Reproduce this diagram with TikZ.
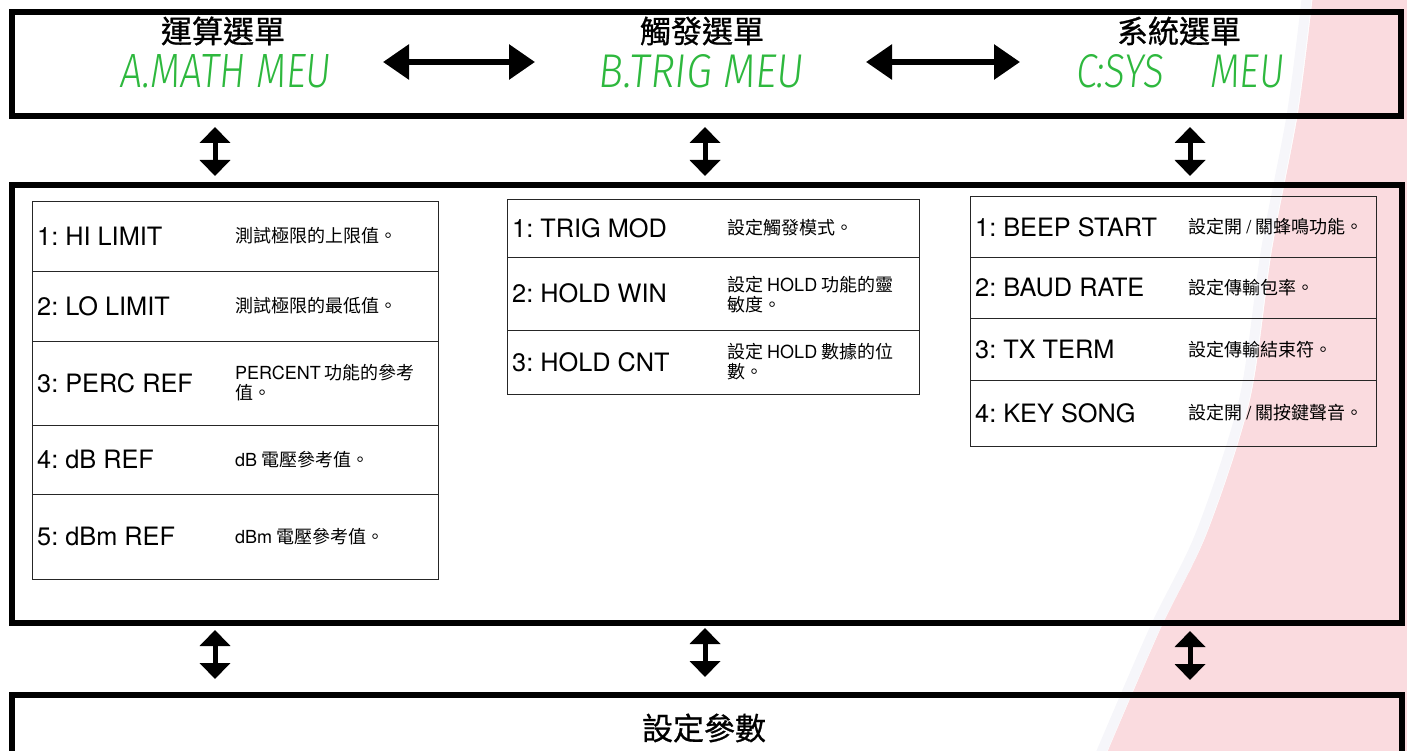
\documentclass[tikz,border=0pt]{standalone}
\usepackage{fontspec}
\usepackage{graphicx}
\usetikzlibrary{arrows.meta}
\setmainfont{TeX Gyre Heros}
\newfontfamily\cjk{Noto Sans CJK TC}
\newfontfamily\cjkttl{Noto Sans CJK TC}[FakeBold=0.8]
\newfontfamily\heros{TeX Gyre Heros}
\newfontfamily\lcd{Fira Sans Light}[FakeSlant=0.12]
\definecolor{lcdgreen}{RGB}{46,184,62}
\definecolor{wmpink}{RGB}{250,219,223}
\definecolor{wmband}{RGB}{246,246,250}
\frenchspacing
\begin{document}
\begin{tikzpicture}[x=1pt,y=-1pt,
  bigframe/.style={draw=black, line width=6pt, anchor=north west, inner sep=0pt},
  cell/.style={draw=black!85, line width=1.4pt, anchor=north west, inner sep=0pt},
  itemtxt/.style={anchor=west, inner sep=0pt, font=\heros\frenchspacing\fontsize{25.3}{30}\selectfont},
  desctxt/.style={anchor=west, inner sep=0pt, align=left, font=\cjk\fontsize{18}{20}\selectfont},
  ttl/.style={inner sep=0pt, font=\cjkttl\fontsize{31}{34}\selectfont},
  lcdtext/.style={inner sep=0pt, text=lcdgreen},
  harr/.style={line width=6pt, {Triangle[length=26pt,width=34pt]}-{Triangle[length=26pt,width=34pt]}},
  varr/.style={line width=5pt, {Triangle[length=16pt,width=30pt]}-{Triangle[length=16pt,width=30pt]}},
]
\useasboundingbox (0,0) rectangle (1407,751);

% watermark background
\draw[wmband, line width=10pt, xshift=-6pt] plot[smooth] coordinates {(1313,-5) (1298,113) (1272,250) (1250,400) (1207,533) (1160,630) (1104,760)};
\fill[wmpink] (1407,-5) -- plot[smooth] coordinates {(1313,-5) (1298,113) (1272,250) (1250,400) (1207,533) (1160,630) (1104,760)} -- (1407,760) -- cycle;

% big frames
\node[bigframe, minimum width=1389pt, minimum height=104pt] (topbox) at (9,9) {};
\node[bigframe, minimum width=1390pt, minimum height=438pt] (midbox) at (9,182) {};
\node[bigframe, minimum width=1390pt, minimum height=120pt] (botbox) at (9,692) {};

% titles
\node[ttl] (t1) at (223,31) {運算選單};
\node[ttl] (t2) at (702,31) {觸發選單};
\node[ttl] (t3) at (1179,31) {系統選單};
\node[lcdtext] (l1) at (225,71.5) {\resizebox{210pt}{33pt}{\lcd A.MATH MEU}};
\node[lcdtext] (l2) at (700.5,71.5) {\resizebox{205pt}{33pt}{\lcd B.TRIG MEU}};
\node[lcdtext] (l3) at (1179,71.5) {\resizebox{208pt}{33pt}{\lcd C:SYS\hspace{1.2em}MEU}};
\node[ttl] (t4) at (704,728) {設定參數};

% horizontal arrows
\coordinate (h1a) at (383,62); \coordinate (h1b) at (535,62);
\coordinate (h2a) at (866,62); \coordinate (h2b) at (1020,62);
\draw[harr] (h1a) -- (h1b);
\draw[harr] (h2a) -- (h2b);

% vertical arrows
\coordinate (v1a) at (215,127); \coordinate (v1b) at (215,176);
\coordinate (v2a) at (705,127); \coordinate (v2b) at (705,176);
\coordinate (v3a) at (1190,127); \coordinate (v3b) at (1190,176);
\coordinate (w1a) at (215,630); \coordinate (w1b) at (215,679);
\coordinate (w2a) at (705,628); \coordinate (w2b) at (705,677);
\coordinate (w3a) at (1190,631); \coordinate (w3b) at (1190,680);
\draw[varr] (v1a) -- (v1b);
\draw[varr] (v2a) -- (v2b);
\draw[varr] (v3a) -- (v3b);
\draw[varr] (w1a) -- (w1b);
\draw[varr] (w2a) -- (w2b);
\draw[varr] (w3a) -- (w3b);

% left table
\node[cell, minimum width=406pt, minimum height=70pt] (a1) at (32,201) {};
\node[cell, minimum width=406pt, minimum height=70pt] (a2) at (32,271) {};
\node[cell, minimum width=406pt, minimum height=84pt] (a3) at (32,341) {};
\node[cell, minimum width=406pt, minimum height=69pt] (a4) at (32,425) {};
\node[cell, minimum width=406pt, minimum height=85pt] (a5) at (32,494) {};
\node[itemtxt] (a1i) at (37,236) {1: HI LIMIT};
\node[itemtxt] (a2i) at (37,306) {2: LO LIMIT};
\node[itemtxt] (a3i) at (37,383) {3: PERC REF};
\node[itemtxt] (a4i) at (37,459.5) {4: dB REF};
\node[itemtxt] (a5i) at (37,536.5) {5: dBm REF};
\node[desctxt] (a1d) at (235,236) {測試極限的上限值。};
\node[desctxt] (a2d) at (235,306) {測試極限的最低值。};
\node[desctxt] (a3d) at (235,383) {{\heros PERCENT} 功能的參考\\值。};
\node[desctxt] (a4d) at (235,459.5) {{\heros dB} 電壓參考值。};
\node[desctxt] (a5d) at (235,536.5) {{\heros dBm} 電壓參考值。};

% middle table
\node[cell, minimum width=412pt, minimum height=58pt] (b1) at (507,199) {};
\node[cell, minimum width=412pt, minimum height=73pt] (b2) at (507,257) {};
\node[cell, minimum width=412pt, minimum height=64pt] (b3) at (507,330) {};
\node[itemtxt] (b1i) at (512,228) {1: TRIG MOD};
\node[itemtxt] (b2i) at (512,293.5) {2: HOLD WIN};
\node[itemtxt] (b3i) at (512,362) {3: HOLD CNT};
\node[desctxt] (b1d) at (727,228) {設定觸發模式。};
\node[desctxt] (b2d) at (727,294.5) {設定 {\heros HOLD} 功能的靈\\敏度。};
\node[desctxt] (b3d) at (727,362) {設定 {\heros HOLD} 數據的位\\數。};

% right table
\node[cell, minimum width=406pt, minimum height=61pt] (c1) at (970,196) {};
\node[cell, minimum width=406pt, minimum height=61pt] (c2) at (970,257) {};
\node[cell, minimum width=406pt, minimum height=62pt] (c3) at (970,318) {};
\node[cell, minimum width=406pt, minimum height=66pt] (c4) at (970,380) {};
\node[itemtxt] (c1i) at (975,227) {1: BEEP START};
\node[itemtxt] (c2i) at (975,288) {2: BAUD RATE};
\node[itemtxt] (c3i) at (975,349.5) {3: TX TERM};
\node[itemtxt] (c4i) at (975,413) {4: KEY SONG};
\node[desctxt] (c1d) at (1188,227) {設定開 {\heros /} 關蜂鳴功能。};
\node[desctxt] (c2d) at (1188,288) {設定傳輸包率。};
\node[desctxt] (c3d) at (1188,349.5) {設定傳輸結束符。};
\node[desctxt] (c4d) at (1188,413) {設定開 {\heros /} 關按鍵聲音。};
\end{tikzpicture}
\end{document}
